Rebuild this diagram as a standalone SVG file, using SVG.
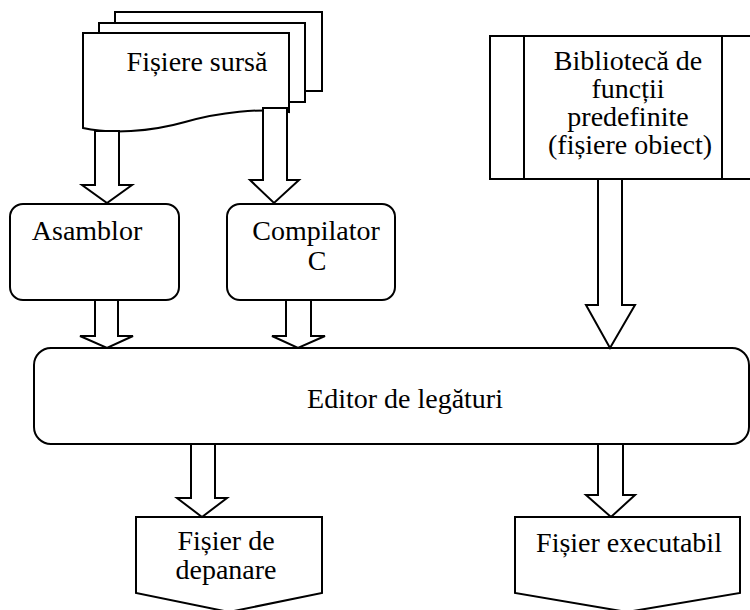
<svg xmlns="http://www.w3.org/2000/svg" width="750" height="610" viewBox="0 0 750 610">
<style>
.s{fill:#fff;stroke:#000;stroke-width:2;stroke-linejoin:miter}
text{font-family:'Liberation Serif','Times New Roman','DejaVu Serif',serif;font-size:28px;fill:#000;text-anchor:middle}
</style>
<rect width="750" height="610" fill="#fff"/>
<g id="fisiere-sursa">
<rect class="s" x="115" y="12" width="207" height="79"/>
<rect class="s" x="99" y="23" width="206" height="79"/>
<path class="s" d="M83,33 H289 V112 C260,108 220,112 185,122 C150,132 110,134 83,128 Z"/>
<text font-family="Liberation Serif, serif" x="197" y="71">Fișiere sursă</text>
</g>
<g id="biblioteca">
<rect class="s" x="490" y="36" width="266" height="143"/>
<line class="s" x1="524" y1="36" x2="524" y2="179"/>
<line class="s" x1="722" y1="36" x2="722" y2="179"/>
<text font-family="Liberation Serif, serif" font-size="27" x="628" y="70">Bibliotecă de</text>
<text font-family="Liberation Serif, serif" font-size="27" x="628" y="98">funcții</text>
<text font-family="Liberation Serif, serif" font-size="27" x="628" y="126">predefinite</text>
<text font-family="Liberation Serif, serif" font-size="27" x="630" y="154">(fișiere obiect)</text>
</g>
<g id="asamblor">
<rect class="s" x="10" y="204" width="169" height="96" rx="13"/>
<text font-family="Liberation Serif, serif" x="87" y="240">Asamblor</text>
</g>
<g id="compilator">
<rect class="s" x="227" y="204" width="168" height="96" rx="13"/>
<text font-family="Liberation Serif, serif" x="316" y="240">Compilator</text>
<text font-family="Liberation Serif, serif" x="317" y="270">C</text>
</g>
<g id="editor">
<rect class="s" x="34" y="348" width="715" height="96" rx="17"/>
<text font-family="Liberation Serif, serif" x="405" y="408">Editor de legături</text>
</g>
<g id="fisier-depanare">
<path class="s" d="M136,517 H322 V593 L229,612 L136,593 Z"/>
<text font-family="Liberation Serif, serif" font-size="26" x="226" y="550">Fișier de</text>
<text font-family="Liberation Serif, serif" font-size="26" x="226" y="579">depanare</text>
</g>
<g id="fisier-executabil">
<path class="s" d="M515,517 H740 V593 L627,612 L515,593 Z"/>
<text font-family="Liberation Serif, serif" x="629" y="552">Fișier executabil</text>
</g>
<g id="connectors">
<path class="s" d="M95,131 H119 V185 H132 L107,203 L82,185 H95 Z"/>
<path class="s" d="M263,108 H287 V180 H299 L274,203 L250,180 H263 Z"/>
<path class="s" d="M598,179 H622 V305 H635 L610,348 L586,305 H598 Z"/>
<path class="s" d="M95,300 H118 V336 H133 L107,348 L80,336 H95 Z"/>
<path class="s" d="M286,300 H311 V336 H325 L298,348 L272,336 H286 Z"/>
<path class="s" d="M191,444 H215 V498 H227 L202,517 L177,498 H191 Z"/>
<path class="s" d="M598,444 H623 V495 H635 L611,517 L586,495 H598 Z"/>
</g>
</svg>
